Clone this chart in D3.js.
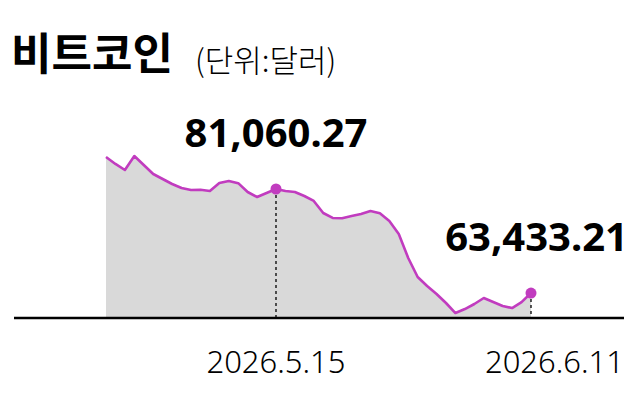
<!DOCTYPE html>
<html>
<head>
<meta charset="utf-8">
<script src="https://cdn.jsdelivr.net/npm/d3@7"></script>
<style>
  body { margin: 0; background: #fff; }
  svg { display: block; }
  .title { font-family: "Noto Sans CJK KR", sans-serif; font-weight: 700; font-size: 44px; fill: #000; }
  .unit { font-family: "Noto Sans CJK KR", sans-serif; font-weight: 300; font-size: 31px; fill: #000; }
  .val { font-family: "Noto Sans", "Noto Sans CJK KR", sans-serif; font-weight: 700; font-size: 40px; fill: #000; }
  .date { font-family: "Noto Sans", "Noto Sans CJK KR", sans-serif; font-weight: 300; font-size: 31px; fill: #000; }
</style>
</head>
<body>
<div id="chart"></div>
<script>
var width = 638;
var height = 413;

// daily closes, 2026.4.27 ~ 2026.6.11
var startDate = "2026-04-27";
var prices = [
  86480, 85300, 84280, 86650, 85130, 83600, 82750, 81910, 81230, 80890,
  80920, 80720, 82080, 82420, 82050, 80550, 79700, 80380, 81060.27, 80720,
  80550, 79870, 79030, 76990, 76150, 76100, 76480, 76820, 77330, 76950,
  75640, 73430, 69370, 66150, 64620, 63260, 61740, 60040, 60720, 61570,
  62590, 61910, 61230, 60890, 61900, 63433.21
];
var markDates = ["2026-05-15", "2026-06-11"];
var markLabels = ["81,060.27", "63,433.21"];
var dateLabels = ["2026.5.15", "2026.6.11"];

var parse = d3.timeParse("%Y-%m-%d");
var t0 = parse(startDate);
var data = prices.map(function(v, i) {
  return { date: d3.timeDay.offset(t0, i), value: v };
});

var svg = d3.select("#chart")
  .append("svg")
  .attr("width", width)
  .attr("height", height);

var x = d3.scaleTime()
  .domain(d3.extent(data, function(d) { return d.date; }))
  .range([106, 531]);

var y = d3.scaleLinear()
  .domain([59200, d3.max(prices)])
  .range([318, 156]);

// title
svg.append("text")
  .attr("class", "title")
  .attr("x", 11)
  .attr("y", 70)
  .text("비트코인");

svg.append("text")
  .attr("class", "unit")
  .attr("x", 195)
  .attr("y", 72)
  .text("(단위:달러)");

// area
var area = d3.area()
  .x(function(d) { return x(d.date); })
  .y0(y(59200))
  .y1(function(d) { return y(d.value); });

svg.append("path")
  .datum(data)
  .attr("d", area)
  .attr("fill", "#d9d9d9");

// marker lines
var marks = markDates.map(function(s, i) {
  var dt = parse(s);
  var pt = data.find(function(d) { return +d.date === +dt; });
  return { date: dt, value: pt.value, label: markLabels[i], dlabel: dateLabels[i] };
});

svg.selectAll(".guide")
  .data(marks)
  .enter()
  .append("line")
  .attr("class", "guide")
  .attr("x1", function(d) { return x(d.date); })
  .attr("x2", function(d) { return x(d.date); })
  .attr("y1", function(d) { return y(d.value); })
  .attr("y2", y(59200))
  .attr("stroke", "#000")
  .attr("stroke-width", 1.3)
  .attr("stroke-dasharray", "3,3");

var line = d3.line()
  .x(function(d) { return x(d.date); })
  .y(function(d) { return y(d.value); });

svg.append("path")
  .datum(data)
  .attr("d", line)
  .attr("fill", "none")
  .attr("stroke", "#c13cbf")
  .attr("stroke-width", 2.6)
  .attr("stroke-linejoin", "round");

// baseline
svg.append("line")
  .attr("x1", 14)
  .attr("x2", 624)
  .attr("y1", y(59200))
  .attr("y2", y(59200))
  .attr("stroke", "#000")
  .attr("stroke-width", 2.5);

svg.selectAll(".dot")
  .data(marks)
  .enter()
  .append("circle")
  .attr("class", "dot")
  .attr("cx", function(d) { return x(d.date); })
  .attr("cy", function(d) { return y(d.value); })
  .attr("r", 5.5)
  .attr("fill", "#c13cbf");

// value labels
svg.selectAll(".val")
  .data(marks)
  .enter()
  .append("text")
  .attr("class", "val")
  .attr("x", function(d, i) { return i === 0 ? x(d.date) : width - 10; })
  .attr("y", function(d) { return y(d.value) - 42; })
  .attr("text-anchor", function(d, i) { return i === 0 ? "middle" : "end"; })
  .text(function(d) { return d.label; });

// date labels
svg.selectAll(".date")
  .data(marks)
  .enter()
  .append("text")
  .attr("class", "date")
  .attr("x", function(d, i) { return i === 0 ? x(d.date) : 624; })
  .attr("y", 373)
  .attr("text-anchor", function(d, i) { return i === 0 ? "middle" : "end"; })
  .text(function(d) { return d.dlabel; });
</script>
</body>
</html>
